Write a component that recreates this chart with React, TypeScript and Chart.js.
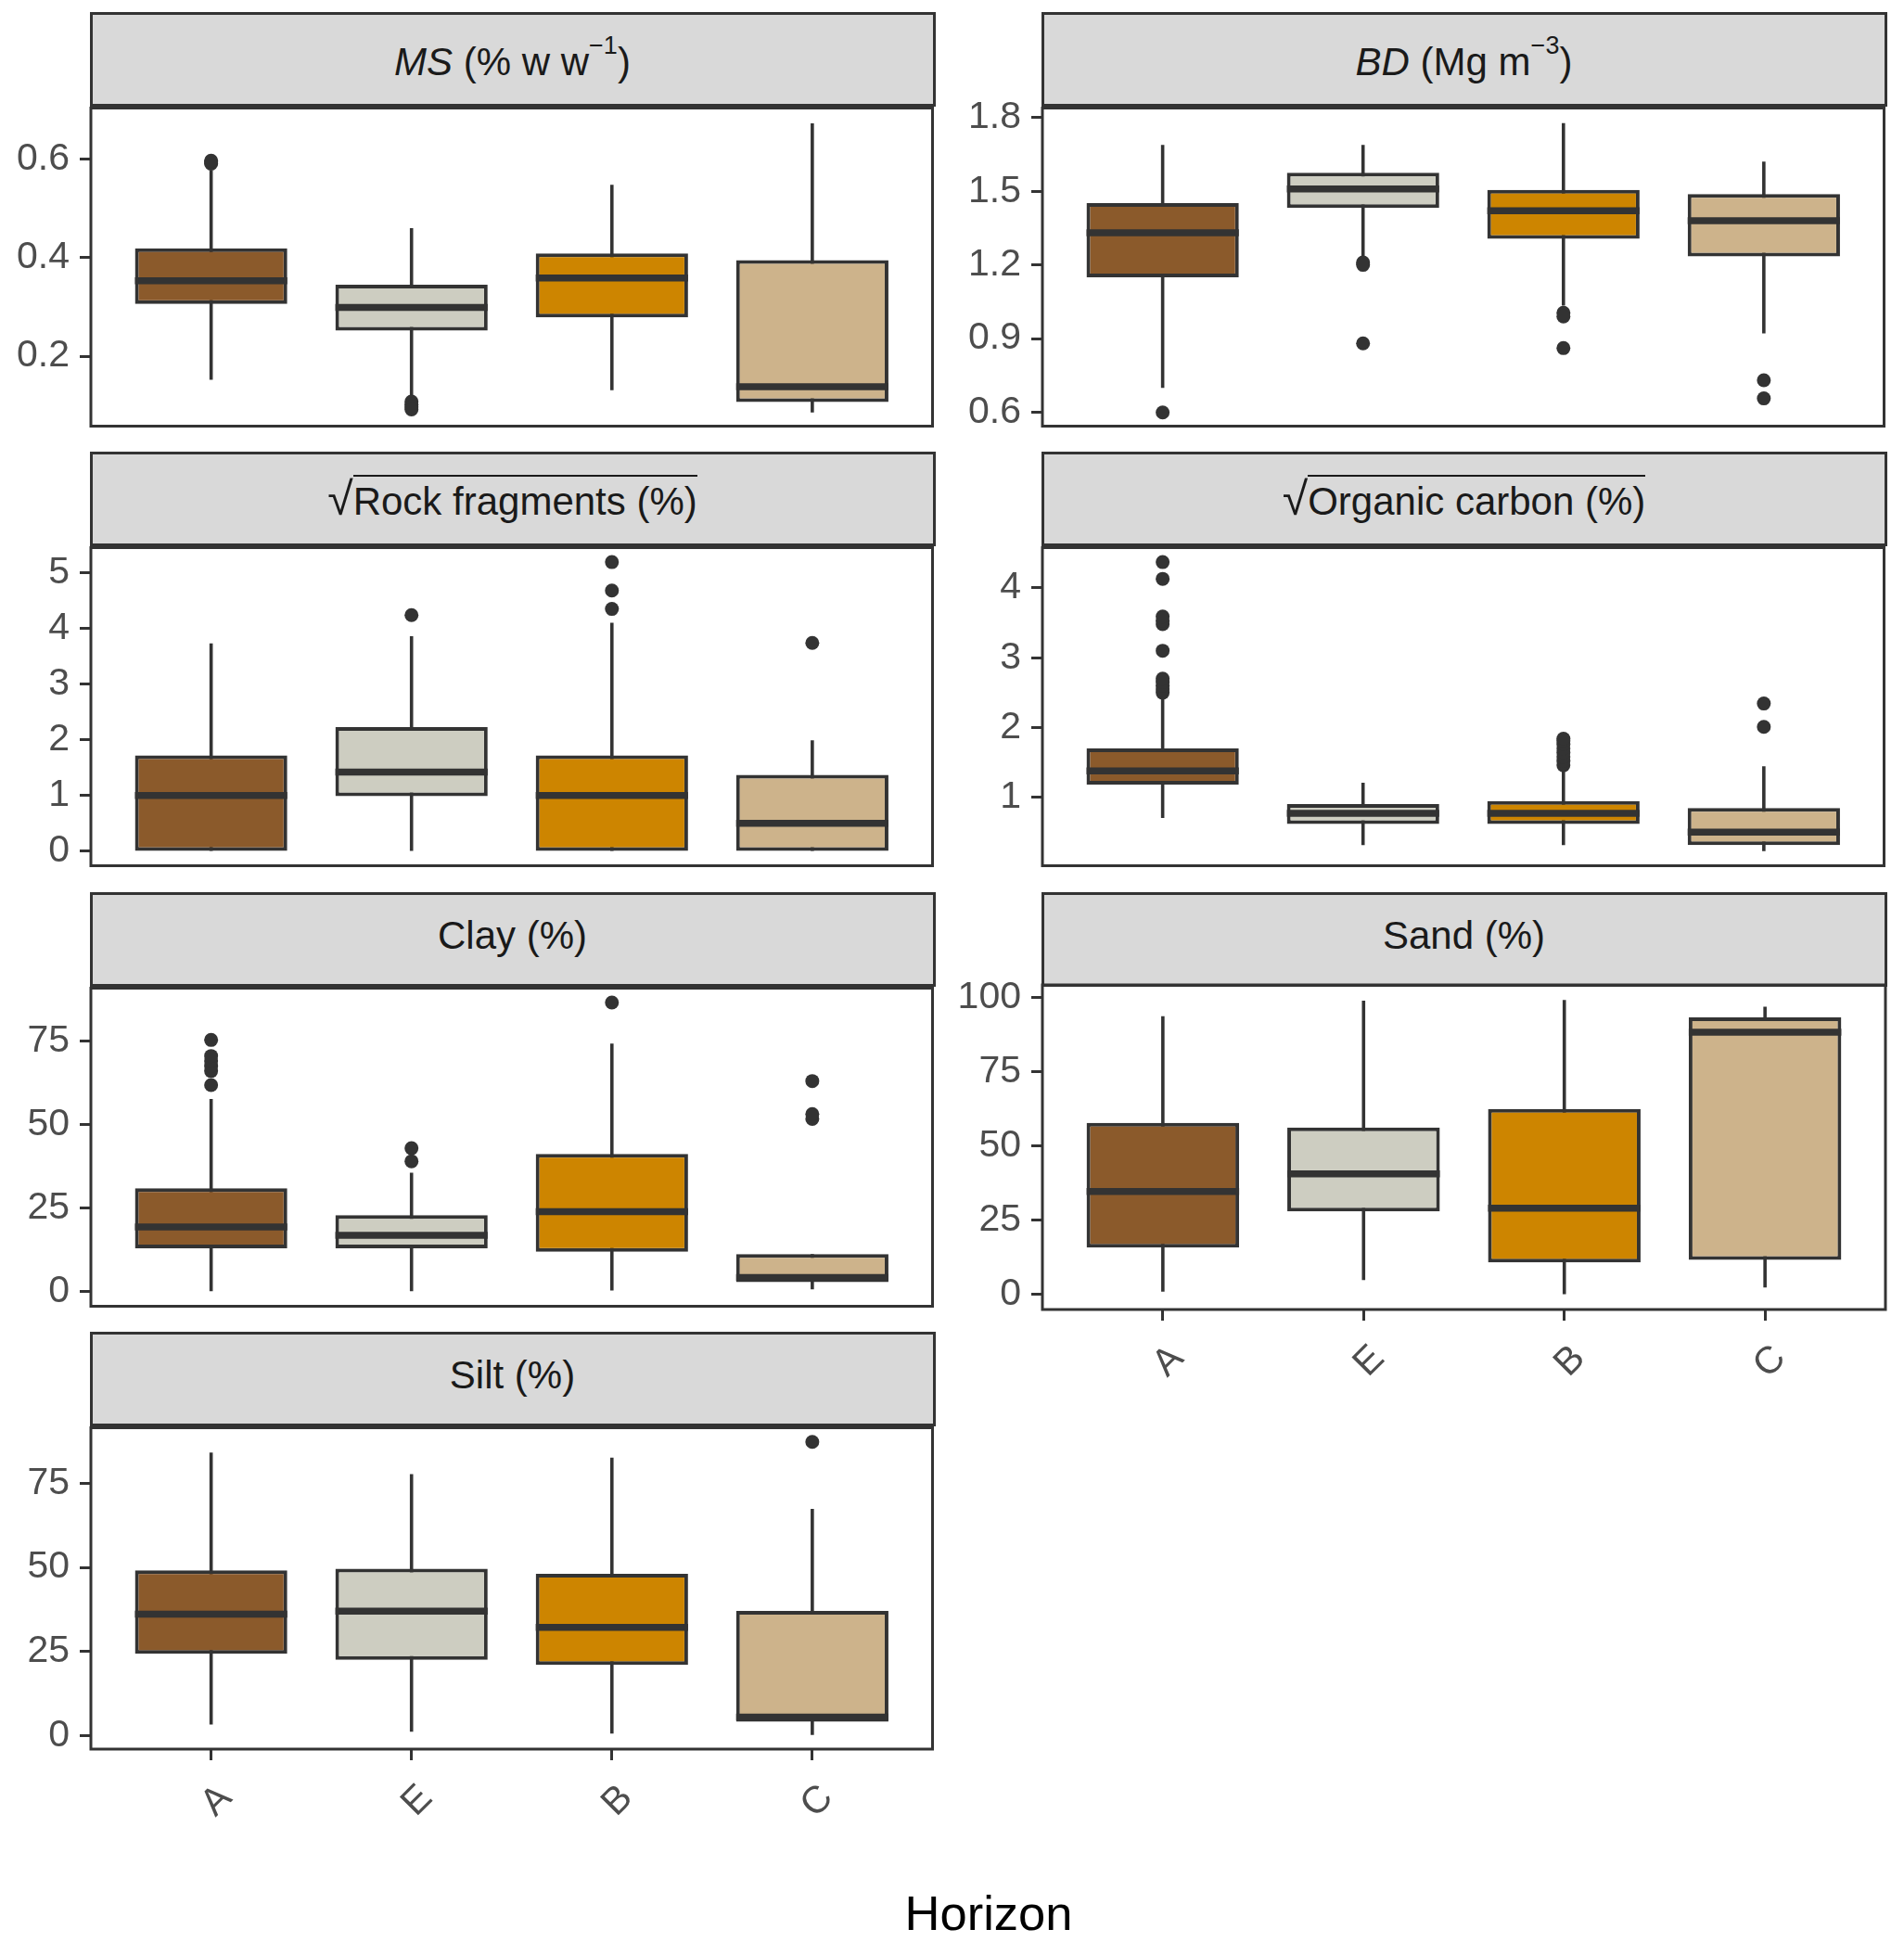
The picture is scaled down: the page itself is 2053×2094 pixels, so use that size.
import React, { useEffect, useRef } from 'react';
import { Chart, registerables } from 'chart.js';

Chart.register(...registerables);

const FONT = "'Liberation Sans', Arial, Helvetica, sans-serif";

// Categories (soil horizons) and their fill colours
const HORIZONS = ['A', 'E', 'B', 'C'];
const FILLS = ['#8B5A2B', '#CDCDC1', '#CD8500', '#CDB38B'];

// Box summaries per horizon: [lower whisker, Q1, median, Q3, upper whisker]
const MS_BOX = [
  [0.152, 0.306, 0.353, 0.419, 0.578],
  [0.12, 0.252, 0.299, 0.345, 0.46],
  [0.131, 0.279, 0.359, 0.409, 0.548],
  [0.086, 0.107, 0.138, 0.395, 0.673],
];
const MS_OUT = [[0.591, 0.594, 0.597], [0.108, 0.102, 0.097, 0.092], [], []];
const MS_TICKS = [0.2, 0.4, 0.6];
const MS_LABELS = ['0.2', '0.4', '0.6'];
const MS_RANGE = [0.058, 0.704];

const BD_BOX = [
  [0.699, 1.149, 1.331, 1.452, 1.689],
  [1.232, 1.432, 1.509, 1.575, 1.689],
  [1.034, 1.306, 1.421, 1.506, 1.778],
  [0.921, 1.234, 1.38, 1.489, 1.621],
];
const BD_OUT = [[0.599], [1.21, 1.2, 0.88], [1.005, 0.99, 0.861], [0.73, 0.656]];
const BD_TICKS = [0.6, 0.9, 1.2, 1.5, 1.8];
const BD_LABELS = ['0.6', '0.9', '1.2', '1.5', '1.8'];
const BD_RANGE = [0.543, 1.839];

const ROCK_BOX = [
  [0, 0, 1.0, 1.72, 3.73],
  [0, 0.99, 1.42, 2.23, 3.86],
  [0, 0, 1.0, 1.72, 4.1],
  [0, 0, 0.5, 1.37, 1.99],
];
const ROCK_OUT = [[], [4.24], [4.35, 4.68, 5.19], [3.74]];
const ROCK_TICKS = [0, 1, 2, 3, 4, 5];
const ROCK_LABELS = ['0', '1', '2', '3', '4', '5'];
const ROCK_RANGE = [-0.26, 5.45];

const OC_BOX = [
  [0.705, 1.182, 1.377, 1.702, 2.42],
  [0.315, 0.619, 0.77, 0.905, 1.208],
  [0.315, 0.619, 0.77, 0.948, 1.368],
  [0.228, 0.315, 0.502, 0.848, 1.446],
];
const OC_OUT = [
  [2.5, 2.55, 2.6, 2.65, 2.7, 3.1, 3.48, 3.53, 3.59, 4.13, 4.37],
  [],
  [1.46, 1.52, 1.58, 1.64, 1.7, 1.76, 1.81, 1.84],
  [2.01, 2.344],
];
const OC_TICKS = [1, 2, 3, 4];
const OC_LABELS = ['1', '2', '3', '4'];
const OC_RANGE = [0.02, 4.577];

const CLAY_BOX = [
  [0, 12.95, 19.3, 30.9, 57.6],
  [0, 12.95, 16.8, 22.9, 35.6],
  [0.3, 11.9, 23.9, 41.2, 74.2],
  [0.7, 2.8, 4.2, 11.2, 11.2],
];
const CLAY_OUT = [[61.8, 66, 67.5, 69, 70.5, 75.3], [39.0, 42.9], [86.5], [51.7, 53.1, 63.0]];
const CLAY_TICKS = [0, 25, 50, 75];
const CLAY_LABELS = ['0', '25', '50', '75'];
const CLAY_RANGE = [-4.4, 90.8];

const SAND_BOX = [
  [1.0, 15.8, 34.7, 57.8, 93.7],
  [4.9, 28.0, 40.6, 56.2, 98.9],
  [0, 10.8, 29.1, 62.5, 99.1],
  [2.4, 11.7, 88.3, 93.3, 96.9],
];
const SAND_OUT = [[], [], [], []];
const SAND_TICKS = [0, 25, 50, 75, 100];
const SAND_LABELS = ['0', '25', '50', '75', '100'];
const SAND_RANGE = [-5.0, 104.2];

const SILT_BOX = [
  [3.3, 24.3, 36.1, 49.1, 84.1],
  [1.2, 22.5, 37.0, 49.6, 77.7],
  [0.6, 21.0, 32.2, 48.1, 82.6],
  [0.2, 4.1, 5.5, 37.1, 67.4],
];
const SILT_OUT = [[], [], [], [87.3]];
const SILT_TICKS = [0, 25, 50, 75];
const SILT_LABELS = ['0', '25', '50', '75'];
const SILT_RANGE = [-4.0, 91.5];

// Layout constants (px)
const COL_LEFT = [98, 1124];
const ROW_TOP = [13, 487, 962, 1436];
const STRIP_H = 100;
const PLOT_W = 909;
const PLOT_H = 350;
const Y_AXIS_W = 98;
const X_AXIS_H = 110;
const PAD_T = 4;
const PAD_R = 6;
const INK = '#333333';

type PanelProps = {
  col: number;
  row: number;
  box: number[][];
  out: number[][];
  ticks: number[];
  labels: string[];
  range: number[];
  showX: boolean;
};

function BoxPanel({ col, row, box, out, ticks, labels, range, showX }: PanelProps) {
  const ref = useRef<HTMLCanvasElement>(null);
  const W = Y_AXIS_W + PLOT_W + PAD_R;
  const H = PAD_T + PLOT_H + (showX ? X_AXIS_H : PAD_T);
  const left = COL_LEFT[col] - Y_AXIS_W;
  const top = ROW_TOP[row] + STRIP_H - PAD_T;

  useEffect(() => {
    const pos = HORIZONS.map((_, i) => i + 1);
    const extras = {
      id: 'boxExtras',
      afterDatasetsDraw(chart: any) {
        const { ctx, scales } = chart;
        const meta = chart.getDatasetMeta(1);
        ctx.save();
        ctx.strokeStyle = INK;
        ctx.lineWidth = 7.5;
        ctx.lineCap = 'butt';
        meta.data.forEach((bar: any, i: number) => {
          const y = scales.y.getPixelForValue(box[i][2]);
          const half = bar.width / 2;
          ctx.beginPath();
          ctx.moveTo(bar.x - half, y);
          ctx.lineTo(bar.x + half, y);
          ctx.stroke();
        });
        ctx.restore();
      },
      afterDraw(chart: any) {
        const { ctx, chartArea } = chart;
        ctx.save();
        ctx.strokeStyle = INK;
        ctx.lineWidth = 3;
        ctx.strokeRect(chartArea.left, chartArea.top, chartArea.right - chartArea.left, chartArea.bottom - chartArea.top);
        ctx.restore();
      },
    };

    const noPad = (s: any) => {
      s.paddingTop = 0;
      s.paddingBottom = 0;
      s.paddingLeft = 0;
      s.paddingRight = 0;
    };

    const chart = new Chart(ref.current as HTMLCanvasElement, {
      type: 'bar',
      data: {
        datasets: [
          {
            type: 'bar',
            label: 'whiskers',
            data: pos.map((x, i) => ({ x, y: [box[i][0], box[i][4]] })) as any,
            backgroundColor: INK,
            maxBarThickness: 3.6,
            grouped: false,
            order: 3,
          } as any,
          {
            type: 'bar',
            label: 'boxes',
            data: pos.map((x, i) => ({ x, y: [box[i][1], box[i][3]] })) as any,
            backgroundColor: FILLS,
            borderColor: INK,
            borderWidth: 4,
            borderSkipped: false,
            barPercentage: 0.76,
            categoryPercentage: 1,
            grouped: false,
            order: 2,
          } as any,
          {
            type: 'scatter',
            label: 'outliers',
            data: out.flatMap((vals, i) => vals.map((v) => ({ x: pos[i], y: v }))),
            pointRadius: 7.5,
            pointBackgroundColor: INK,
            pointBorderWidth: 0,
            order: 0,
          } as any,
        ],
      },
      options: {
        responsive: false,
        animation: false,
        devicePixelRatio: 1,
        events: [],
        layout: { padding: { top: PAD_T, right: PAD_R, bottom: showX ? 0 : PAD_T, left: 0 } },
        plugins: { legend: { display: false }, tooltip: { enabled: false } },
        scales: {
          x: {
            type: 'linear',
            min: 0.4,
            max: 4.6,
            offset: false,
            display: showX,
            afterBuildTicks: (s: any) => {
              s.ticks = pos.map((v) => ({ value: v }));
            },
            afterFit: (s: any) => {
              s.height = showX ? X_AXIS_H : 0;
              noPad(s);
            },
            grid: { display: true, drawOnChartArea: false, drawTicks: true, tickLength: 12, tickWidth: 3, tickColor: INK, offset: false },
            border: { display: false },
            ticks: {
              autoSkip: false,
              minRotation: 45,
              maxRotation: 45,
              labelOffset: 16,
              padding: 17,
              color: '#4D4D4D',
              font: { family: FONT, size: 41 },
              callback: (_v: any, i: number) => HORIZONS[i],
            },
          } as any,
          y: {
            type: 'linear',
            min: range[0],
            max: range[1],
            afterBuildTicks: (s: any) => {
              s.ticks = ticks.map((v) => ({ value: v }));
            },
            afterFit: (s: any) => {
              s.width = Y_AXIS_W;
              noPad(s);
            },
            grid: { display: true, drawOnChartArea: false, drawTicks: true, tickLength: 12, tickWidth: 3, tickColor: INK },
            border: { display: false },
            ticks: {
              padding: 11,
              color: '#4D4D4D',
              font: { family: FONT, size: 41 },
              callback: (_v: any, i: number) => labels[i],
            },
          } as any,
        },
      },
      plugins: [extras],
    } as any);
    return () => chart.destroy();
  }, []);

  return (
    <canvas
      ref={ref}
      width={W}
      height={H}
      style={{ position: 'absolute', left, top, width: W, height: H }}
    />
  );
}

function Strip({ col, row, textTop, children }: { col: number; row: number; textTop: number; children: React.ReactNode }) {
  return (
    <div
      style={{
        position: 'absolute',
        left: COL_LEFT[col] - 1.5,
        top: ROW_TOP[row],
        width: PLOT_W + 3,
        height: STRIP_H + 1.5,
        boxSizing: 'border-box',
        background: '#D9D9D9',
        border: `3px solid ${INK}`,
      }}
    >
      <div
        style={{
          position: 'absolute',
          left: 0,
          right: 0,
          top: textTop,
          height: 40,
          lineHeight: '40px',
          textAlign: 'center',
          fontSize: 42,
          fontFamily: FONT,
          color: '#1A1A1A',
          whiteSpace: 'nowrap',
        }}
      >
        {children}
      </div>
    </div>
  );
}

const sup: React.CSSProperties = { fontSize: 27, position: 'relative', top: -23 };
const radical: React.CSSProperties = { fontSize: 50 };
const overline: React.CSSProperties = { borderTop: '2.5px solid #1A1A1A', paddingTop: 3 };

export default function App() {
  return (
    <div style={{ position: 'absolute', left: 0, top: 0, width: 2053, height: 2094, background: '#FFFFFF', overflow: 'hidden' }}>
      <Strip col={0} row={0} textTop={31}>
        <i>MS</i> (% w w<span style={sup}>−1</span>)
      </Strip>
      <Strip col={1} row={0} textTop={31}>
        <i>BD</i> (Mg m<span style={sup}>−3</span>)
      </Strip>
      <Strip col={0} row={1} textTop={27.5}>
        <span style={radical}>√</span><span style={overline}>Rock fragments (%)</span>
      </Strip>
      <Strip col={1} row={1} textTop={27.5}>
        <span style={radical}>√</span><span style={overline}>Organic carbon (%)</span>
      </Strip>
      <Strip col={0} row={2} textTop={23.5}>Clay (%)</Strip>
      <Strip col={1} row={2} textTop={23.5}>Sand (%)</Strip>
      <Strip col={0} row={3} textTop={23.5}>Silt (%)</Strip>

      <BoxPanel col={0} row={0} box={MS_BOX} out={MS_OUT} ticks={MS_TICKS} labels={MS_LABELS} range={MS_RANGE} showX={false} />
      <BoxPanel col={1} row={0} box={BD_BOX} out={BD_OUT} ticks={BD_TICKS} labels={BD_LABELS} range={BD_RANGE} showX={false} />
      <BoxPanel col={0} row={1} box={ROCK_BOX} out={ROCK_OUT} ticks={ROCK_TICKS} labels={ROCK_LABELS} range={ROCK_RANGE} showX={false} />
      <BoxPanel col={1} row={1} box={OC_BOX} out={OC_OUT} ticks={OC_TICKS} labels={OC_LABELS} range={OC_RANGE} showX={false} />
      <BoxPanel col={0} row={2} box={CLAY_BOX} out={CLAY_OUT} ticks={CLAY_TICKS} labels={CLAY_LABELS} range={CLAY_RANGE} showX={false} />
      <BoxPanel col={1} row={2} box={SAND_BOX} out={SAND_OUT} ticks={SAND_TICKS} labels={SAND_LABELS} range={SAND_RANGE} showX={true} />
      <BoxPanel col={0} row={3} box={SILT_BOX} out={SILT_OUT} ticks={SILT_TICKS} labels={SILT_LABELS} range={SILT_RANGE} showX={true} />

      <div
        style={{
          position: 'absolute',
          left: 66,
          top: 2033,
          width: 2000,
          height: 60,
          lineHeight: '60px',
          textAlign: 'center',
          fontSize: 52.5,
          fontFamily: FONT,
          color: '#000000',
        }}
      >
        Horizon
      </div>
    </div>
  );
}
